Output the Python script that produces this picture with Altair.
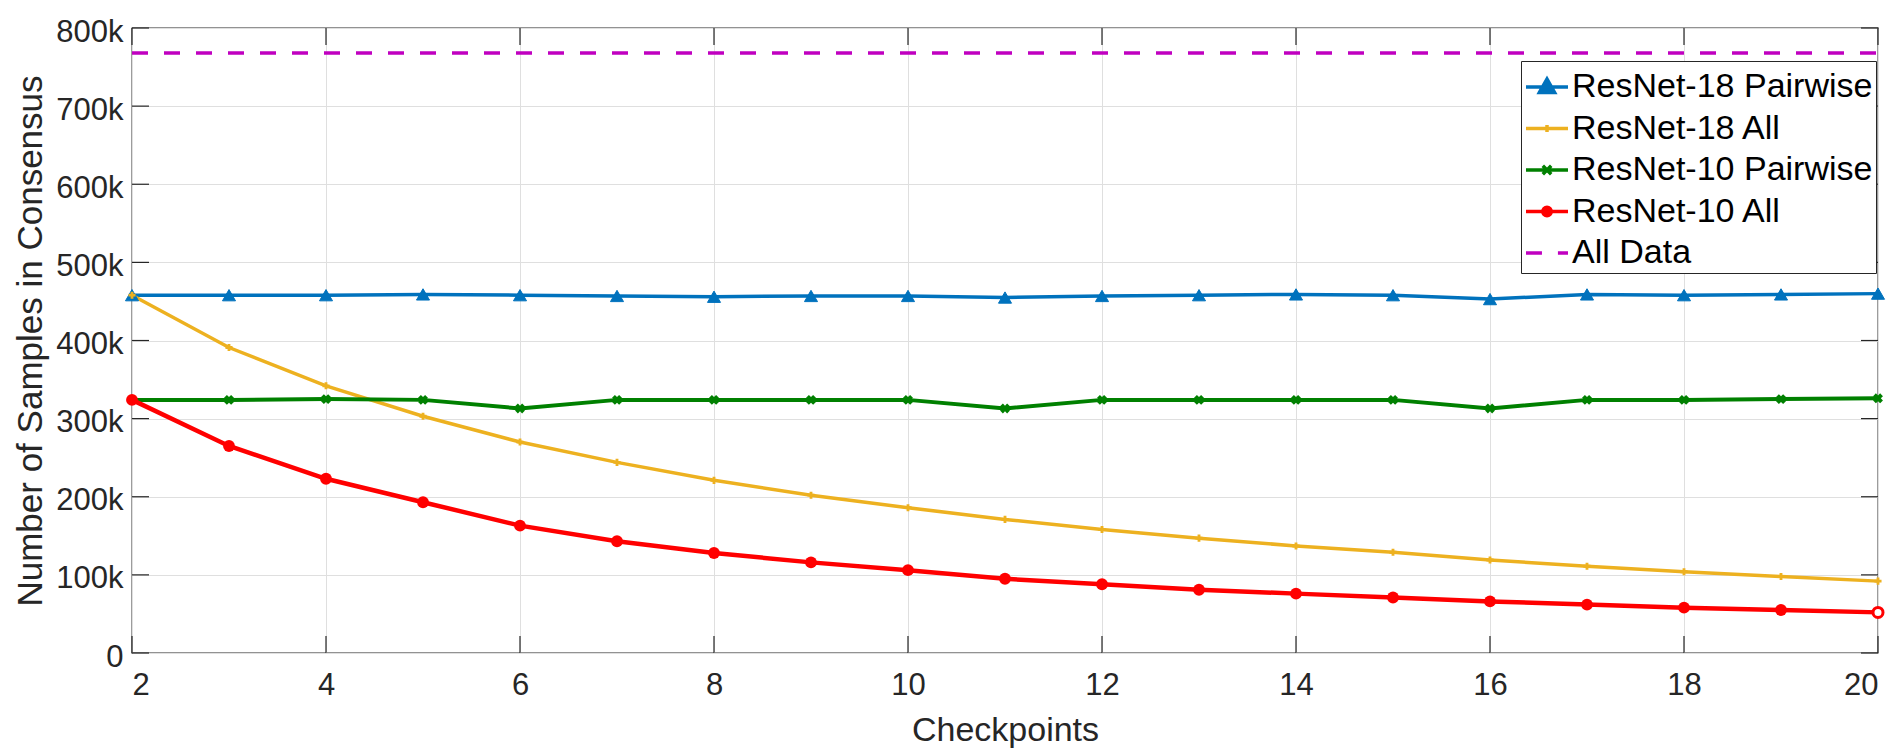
import altair as alt
import pandas as pd

# ---------------- data ----------------
checkpoints = list(range(2, 21))
series_names = ["ResNet-18 Pairwise", "ResNet-18 All", "ResNet-10 Pairwise", "ResNet-10 All", "All Data"]
series_colors = ["#0072BD", "#EDB120", "#008000", "#FF0000", "#C000C0"]

resnet18_pairwise = [458, 458, 458, 459, 458, 457, 456, 457, 457, 455, 457, 458, 459, 458, 453, 459, 458, 459, 460]
resnet18_all = [458, 391, 342, 303, 270, 244, 221, 202, 186, 171, 158, 147, 137, 129, 119, 111, 104, 98, 92]
resnet10_pairwise = [324, 324, 325, 324, 313, 324, 324, 324, 324, 313, 324, 324, 324, 324, 313, 324, 324, 325, 326]
resnet10_all = [324, 265, 223, 193, 163, 143, 128, 116, 106, 95, 88, 81, 76, 71, 66, 62, 58, 55, 52]
all_data = [768] * len(checkpoints)

x_ticks = [2, 4, 6, 8, 10, 12, 14, 16, 18, 20]
y_ticks = [0, 100000, 200000, 300000, 400000, 500000, 600000, 700000, 800000]

rows = []
for name, vals in zip(series_names, [resnet18_pairwise, resnet18_all, resnet10_pairwise, resnet10_all, all_data]):
    for c, v in zip(checkpoints, vals):
        rows.append({"checkpoint": c, "value": v * 1000, "series": name})
df = pd.DataFrame(rows)
xt_df = pd.DataFrame({"checkpoint": x_ticks})
yt_df = pd.DataFrame({"value": y_ticks})

# ---------------- layout ----------------
W, H = 1746, 625
TXT = "#262626"
FONT = "Liberation Sans"
TICK = 17

xscale = alt.Scale(domain=[2, 20], nice=False, zero=False)
yscale = alt.Scale(domain=[0, 800000], nice=False, zero=False)

xaxis = alt.Axis(values=x_ticks, tickSize=0, domain=False, grid=True, gridColor="#dfdfdf", gridWidth=1,
                 labelFont=FONT, labelFontSize=31, labelColor=TXT, labelPadding=17,
                 title="Checkpoints", titleFont=FONT, titleFontSize=34, titleFontWeight="normal",
                 titleColor=TXT, titleX=W / 2, titleY=87, titleBaseline="alphabetic", titleAlign="center")
yaxis = alt.Axis(values=y_ticks, tickSize=0, domain=False, grid=True, gridColor="#dfdfdf", gridWidth=1,
                 labelFont=FONT, labelFontSize=31, labelColor=TXT, labelPadding=9, labelOffset=4,
                 labelExpr="datum.value == 0 ? '0' : format(datum.value / 1000, 'd') + 'k'",
                 title="Number of Samples in Consensus", titleFont=FONT, titleFontSize=35,
                 titleFontWeight="normal", titleColor=TXT, titleX=-91, titleY=H / 2,
                 titleBaseline="alphabetic", titleAlign="center", titleAngle=270)

# legend symbols: a line with the marker (paths in unit coordinates)
legend_paths = [
    "M-1,0H1M-0.36,0.26L0,-0.38L0.36,0.26Z",
    "M-1,0H1M0,-0.17V0.17M-0.14,0H0.14",
    "M-1,0H1M-0.2,-0.2L0.2,0.2M-0.2,0.2L0.2,-0.2",
    "M-1,0H1M0.2,0A0.2,0.2,0,1,1,-0.2,0A0.2,0.2,0,1,1,0.2,0Z",
    "M-1,0H-0.24M0.52,0H1",
]

legend = alt.Legend(title=None, orient="none", legendX=1389, legendY=33,
                    labelFont=FONT, labelFontSize=34, labelColor="#000000", labelOffset=2,
                    labelLimit=600,
                    symbolSize=1764, symbolStrokeWidth=3.5, symbolOpacity=1,
                    padding=3, rowPadding=1.5, strokeColor=TXT, fillColor="white")

color_scale = alt.Scale(domain=series_names, range=series_colors)

X = alt.X("checkpoint:Q", scale=xscale, axis=xaxis)
Y = alt.Y("value:Q", scale=yscale, axis=yaxis)
C = alt.Color("series:N", scale=color_scale, legend=legend)

base = alt.Chart(df)


def lines_for(name, width, dash=None):
    kw = {"strokeWidth": width}
    if dash:
        kw["strokeDash"] = dash
    return base.transform_filter(alt.datum.series == name).mark_line(**kw).encode(x=X, y=Y, color=C)


l_blue = lines_for(series_names[0], 3.5)
l_orange = lines_for(series_names[1], 3.5)
l_green = lines_for(series_names[2], 4)
l_red = lines_for(series_names[3], 4.5)
l_all = lines_for(series_names[4], 3.5, [16, 16])

p_blue = base.transform_filter(alt.datum.series == series_names[0]).mark_point(
    shape="triangle-up", filled=True, size=170, opacity=1, stroke=series_colors[0], strokeWidth=1
).encode(x=X, y=Y, color=C)
p_orange = base.transform_filter(alt.datum.series == series_names[1]).mark_point(
    shape="cross", filled=True, size=50, opacity=1).encode(x=X, y=Y, color=C)
p_green = base.transform_filter(alt.datum.series == series_names[2]).mark_point(
    shape="cross", angle=45, filled=True, size=100, opacity=1).encode(x=X, y=Y, color=C)
p_red = base.transform_filter(
    (alt.datum.series == series_names[3]) & (alt.datum.checkpoint < 20)
).mark_point(shape="circle", filled=True, size=140, opacity=1).encode(x=X, y=Y, color=C)
p_red_last = base.transform_filter(
    (alt.datum.series == series_names[3]) & (alt.datum.checkpoint == 20)
).mark_point(shape="circle", filled=False, size=100, opacity=1, fill="white", strokeWidth=3,
             stroke=series_colors[3]).encode(x=X, y=Y)

legend_layer = base.transform_filter("false").mark_point(filled=True, size=1764, opacity=1).encode(
    x=X, y=Y,
    color=C,
    stroke=alt.Stroke("series:N", scale=alt.Scale(domain=series_names, range=series_colors), legend=legend),
    shape=alt.Shape("series:N", scale=alt.Scale(domain=series_names, range=legend_paths), legend=legend),
)

# inward tick marks on all four sides
t_bottom = alt.Chart(xt_df).mark_rule(color=TXT, strokeWidth=1.2).encode(
    x=X, y=alt.value(H), y2=alt.value(H - TICK))
t_top = alt.Chart(xt_df).mark_rule(color=TXT, strokeWidth=1.2).encode(
    x=X, y=alt.value(0), y2=alt.value(TICK))
t_left = alt.Chart(yt_df).mark_rule(color=TXT, strokeWidth=1.2).encode(
    y=Y, x=alt.value(0), x2=alt.value(TICK))
t_right = alt.Chart(yt_df).mark_rule(color=TXT, strokeWidth=1.2).encode(
    y=Y, x=alt.value(W), x2=alt.value(W - TICK))

chart = alt.layer(
    t_bottom, t_top, t_left, t_right,
    l_all, l_blue, l_orange, l_green, l_red,
    p_blue, p_orange, p_green, p_red, p_red_last, legend_layer,
).properties(
    width=W, height=H,
    autosize=alt.AutoSizeParams(type="none"),
    padding={"left": 132, "top": 28, "right": 25, "bottom": 96},
    background="white",
).configure_view(stroke=TXT, strokeWidth=1.3)

chart.save("out.html", embed_options={"renderer": "svg", "actions": False})
